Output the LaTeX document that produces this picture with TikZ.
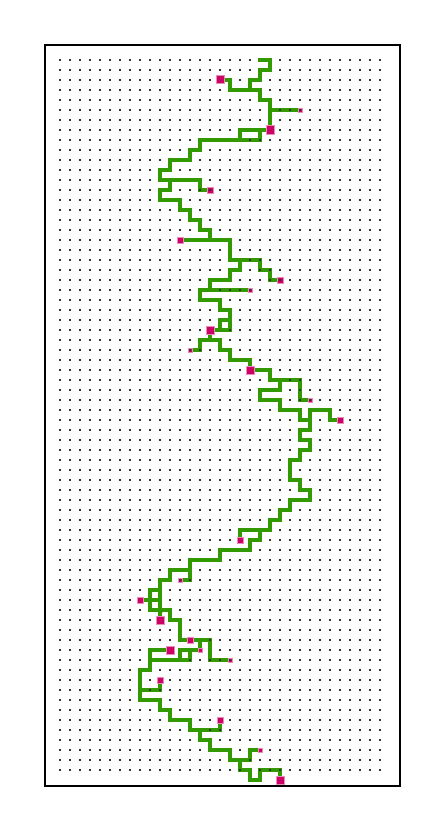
\documentclass[tikz,border=0pt]{standalone}
\definecolor{walkgreen}{RGB}{51,153,0}
\definecolor{mag}{RGB}{204,0,102}
\definecolor{dotgray}{RGB}{51,51,51}
\begin{document}
\begin{tikzpicture}[x=10pt,y=-10pt,
  walk/.style={draw=walkgreen,line width=3.6pt,line cap=rect,line join=miter},
  frame/.style={draw=black,line width=1.6pt},
  gdot/.style={fill=dotgray},
  magL/.style={fill=mag,draw=mag!45,line width=1pt,minimum size=7pt},
]
\useasboundingbox (0,0) rectangle (44.4,83.2);
\draw[frame] (4.5,4.5) rectangle (40,78.6);
% lattice dots
\foreach \i in {6,...,38}{\foreach \j in {6,...,77}{\fill[gdot] (\i-0.1,\j-0.1) rectangle ++(0.2,0.2);}}
% faint square under the walk
\fill[mag!50,draw=mag!35,line width=0.8pt] (16-0.2,61-0.2) rectangle ++(0.4,0.4);
% the walk
\draw[walk] (26,6)--(27,6)--(27,7)--(26,7)--(26,8)--(25,8)--(25,9);
\draw[walk] (22,8)--(23,8)--(23,9)--(26,9)--(26,10)--(27,10)--(27,13);
\draw[walk] (27,11)--(30,11);
\draw[walk] (24,14)--(24,13)--(27,13);
\draw[walk] (26,13)--(26,14);
\draw[walk] (26,14)--(20,14)--(20,15)--(19,15)--(19,16)--(17,16)--(17,17)--(16,17)--(16,18)--(20,18)--(20,19)--(21,19);
\draw[walk] (17,18)--(17,19)--(16,19)--(16,20)--(18,20)--(18,21)--(19,21)--(19,22)--(20,22)--(20,23)--(21,23)--(21,24);
\draw[walk] (18,24)--(23,24)--(23,26)--(26,26)--(26,27)--(27,27)--(27,28)--(28,28);
\draw[walk] (24,26)--(24,27)--(23,27)--(23,28)--(21,28)--(21,29);
\draw[walk] (20,29)--(25,29);
\draw[walk] (20,29)--(20,30)--(22,30)--(22,31)--(23,31)--(23,33)--(21,33);
\draw[walk] (22,32)--(23,32);
\draw[walk] (22,32)--(22,33);
\draw[walk] (21,33)--(21,34);
\draw[walk] (20,34)--(22,34);
\draw[walk] (20,34)--(20,35)--(19,35);
\draw[walk] (22,34)--(22,35)--(23,35)--(23,36)--(25,36)--(25,37)--(27,37)--(27,38)--(30,38)--(30,40)--(31,40);
\draw[walk] (28,38)--(28,39)--(26,39)--(26,40)--(28,40)--(28,41)--(30,41)--(30,42)--(31,42)--(31,41)--(33,41)--(33,42)--(34,42);
\draw[walk] (31,42)--(31,43)--(30,43)--(30,44)--(31,44)--(31,45)--(30,45)--(30,46)--(29,46)--(29,48)--(30,48)--(30,49)--(31,49)--(31,50)--(29,50)--(29,51)--(28,51)--(28,52)--(27,52)--(27,53)--(24,53)--(24,54);
\draw[walk] (26,53)--(26,54)--(25,54)--(25,55)--(22,55)--(22,56)--(19,56)--(19,58)--(18,58);
\draw[walk] (19,57)--(17,57)--(17,58)--(16,58)--(16,62);
\draw[walk] (15,59)--(16,59);
\draw[walk] (15,59)--(15,61);
\draw[walk] (14,60)--(16,60);
\draw[walk] (15,61)--(17,61)--(17,62)--(18,62)--(18,64)--(21,64)--(21,66)--(23,66);
\draw[walk] (20,64)--(20,65);
\draw[walk] (15,65)--(17,65);
\draw[walk] (18,65)--(20,65);
\draw[walk] (18,65)--(18,66);
\draw[walk] (19,65)--(19,66);
\draw[walk] (15,66)--(19,66);
\draw[walk] (15,65)--(15,67)--(14,67)--(14,70)--(16,70)--(16,71)--(17,71)--(17,72)--(19,72)--(19,73)--(22,73)--(22,72);
\draw[walk] (14,69)--(16,69)--(16,68);
\draw[walk] (20,73)--(20,74)--(21,74)--(21,75)--(23,75)--(23,76)--(25,76)--(25,75)--(26,75);
\draw[walk] (24,76)--(24,77)--(25,77)--(25,78)--(26,78)--(26,77)--(28,77)--(28,78);
% magenta squares: large, medium, small
\foreach \p in {(22,8),(27,13),(21,33),(25,37),(16,62),(17,65),(28,78)}
  {\fill[mag,draw=mag!45,line width=1pt] \p ++(-0.4,-0.4) rectangle ++(0.8,0.8);}
\foreach \p in {(21,19),(18,24),(28,28),(34,42),(24,54),(14,60),(19,64),(16,68),(22,72)}
  {\fill[mag,draw=mag!45,line width=1pt] \p ++(-0.3,-0.3) rectangle ++(0.6,0.6);}
\foreach \p in {(30,11),(25,29),(19,35),(31,40),(18,58),(20,65),(23,66),(26,75)}
  {\fill[mag,draw=mag!45,line width=0.8pt] \p ++(-0.2,-0.2) rectangle ++(0.4,0.4);}
% dots visible over the walk
\foreach \p in {(28,11),(29,11),(30,11),(25,14),(26,14),(20,19),(21,19),(25,26),(26,26),(26,27),(27,27),(27,28),(28,28),(22,29),(23,29),(24,29),(25,29),(23,33),(20,35),(19,35),(29,38),(30,38),(30,39),(30,40),(31,40),(18,58),(19,58),(21,64),(21,66),(22,66),(23,66),(19,66),(15,69),(16,69),(21,73),(22,73),(25,76),(24,77),(26,77),(27,77),(28,77)}
  {\fill[gdot] \p ++(-0.1,-0.1) rectangle ++(0.2,0.2);}
\end{tikzpicture}
\end{document}
